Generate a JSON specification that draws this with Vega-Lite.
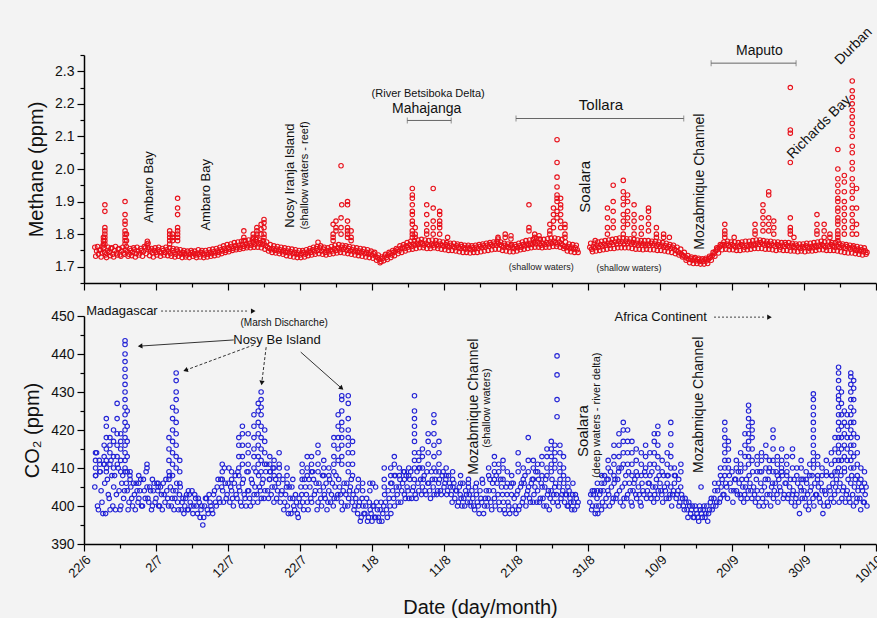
{
"$schema": "https://vega.github.io/schema/vega-lite/v6.json",
"background": "#f3f3f3",
"padding": {"left": 22, "top": 25, "right": 0, "bottom": 0},
"bounds": "flush",
"spacing": 33,
"config": {
  "view": {"stroke": null},
  "font": "Liberation Sans",
  "axis": {"domainColor": "#000", "domainWidth": 1.5, "tickColor": "#000", "tickWidth": 1.2, "labelColor": "#111", "titleColor": "#111", "labelFont": "Liberation Sans", "titleFont": "Liberation Sans", "labelFontSize": 14, "titleFontSize": 20, "titleFontWeight": "normal", "grid": false, "labelOverlap": false}
},
"datasets": {
"obs": [
{"d":1.5,"m":1.76,"c":405},{"d":1.75,"m":1.748,"c":414},{"d":2,"m":1.738,"c":399},{"d":2.25,"m":1.752,"c":409},{"d":2.5,"m":1.742,"c":401},{"d":2.75,"m":1.758,"c":411},{"d":3,"m":1.736,"c":398},{"d":3.25,"m":1.75,"c":407},{"d":3.5,"m":1.744,"c":402},{"d":3.75,"m":1.756,"c":412},
{"d":4,"m":1.738,"c":400},{"d":4.25,"m":1.75,"c":408},{"d":4.5,"m":1.742,"c":403},{"d":4.75,"m":1.754,"c":410},{"d":5,"m":1.736,"c":399},{"d":5.25,"m":1.748,"c":406},{"d":5.5,"m":1.742,"c":402},{"d":5.75,"m":1.752,"c":409},{"d":6,"m":1.746,"c":404},{"d":6.25,"m":1.738,"c":401},
{"d":6.5,"m":1.75,"c":405},{"d":6.75,"m":1.744,"c":400},{"d":7,"m":1.752,"c":403},{"d":7.25,"m":1.74,"c":406},{"d":7.5,"m":1.748,"c":401},{"d":7.75,"m":1.742,"c":404},{"d":8,"m":1.75,"c":400},{"d":8.25,"m":1.746,"c":407},{"d":8.5,"m":1.758,"c":402},{"d":8.75,"m":1.77,"c":405},
{"d":9,"m":1.754,"c":401},{"d":9.25,"m":1.748,"c":404},{"d":9.5,"m":1.742,"c":400},{"d":9.75,"m":1.75,"c":406},{"d":10,"m":1.744,"c":402},{"d":10.25,"m":1.752,"c":404},{"d":10.5,"m":1.746,"c":400},{"d":10.75,"m":1.742,"c":403},{"d":11,"m":1.75,"c":406},{"d":11.25,"m":1.744,"c":401},
{"d":11.5,"m":1.752,"c":404},{"d":11.75,"m":1.746,"c":400},{"d":12,"m":1.74,"c":405},{"d":12.25,"m":1.75,"c":402},{"d":12.5,"m":1.744,"c":399},{"d":12.75,"m":1.738,"c":404},{"d":13,"m":1.748,"c":401},{"d":13.25,"m":1.742,"c":403},{"d":13.5,"m":1.738,"c":399},{"d":13.75,"m":1.744,"c":402},
{"d":14,"m":1.74,"c":400},{"d":14.25,"m":1.736,"c":403},{"d":14.5,"m":1.742,"c":399},{"d":14.75,"m":1.738,"c":401},{"d":15,"m":1.744,"c":404},{"d":15.25,"m":1.74,"c":400},{"d":15.5,"m":1.736,"c":402},{"d":15.75,"m":1.742,"c":398},{"d":16,"m":1.738,"c":401},{"d":16.25,"m":1.744,"c":399},
{"d":16.5,"m":1.74,"c":395},{"d":16.75,"m":1.736,"c":400},{"d":17,"m":1.742,"c":402},{"d":17.25,"m":1.738,"c":398},{"d":17.5,"m":1.744,"c":401},{"d":17.75,"m":1.74,"c":399},{"d":18,"m":1.746,"c":403},{"d":18.25,"m":1.742,"c":401},{"d":18.5,"m":1.748,"c":405},{"d":18.75,"m":1.744,"c":402},
{"d":19,"m":1.752,"c":407},{"d":19.25,"m":1.748,"c":404},{"d":19.5,"m":1.756,"c":410},{"d":19.75,"m":1.75,"c":402},{"d":20,"m":1.758,"c":406},{"d":20.25,"m":1.754,"c":401},{"d":20.5,"m":1.762,"c":404},{"d":20.75,"m":1.756,"c":400},{"d":21,"m":1.764,"c":408},{"d":21.25,"m":1.758,"c":402},
{"d":21.5,"m":1.766,"c":405},{"d":21.75,"m":1.76,"c":401},{"d":22,"m":1.768,"c":406},{"d":22.25,"m":1.762,"c":403},{"d":22.5,"m":1.77,"c":400},{"d":22.75,"m":1.764,"c":404},{"d":23,"m":1.772,"c":402},{"d":23.25,"m":1.766,"c":407},{"d":23.5,"m":1.774,"c":401},{"d":23.75,"m":1.768,"c":405},
{"d":24,"m":1.776,"c":403},{"d":24.25,"m":1.77,"c":408},{"d":24.5,"m":1.774,"c":404},{"d":24.75,"m":1.768,"c":406},{"d":25,"m":1.772,"c":402},{"d":25.25,"m":1.764,"c":409},{"d":25.5,"m":1.76,"c":404},{"d":25.75,"m":1.756,"c":407},{"d":26,"m":1.752,"c":403},{"d":26.25,"m":1.756,"c":410},
{"d":26.5,"m":1.75,"c":405},{"d":26.75,"m":1.754,"c":402},{"d":27,"m":1.748,"c":406},{"d":27.25,"m":1.752,"c":401},{"d":27.5,"m":1.746,"c":404},{"d":27.75,"m":1.75,"c":399},{"d":28,"m":1.744,"c":403},{"d":28.25,"m":1.748,"c":400},{"d":28.5,"m":1.742,"c":405},{"d":28.75,"m":1.746,"c":398},
{"d":29,"m":1.74,"c":402},{"d":29.25,"m":1.744,"c":399},{"d":29.5,"m":1.738,"c":401},{"d":29.75,"m":1.742,"c":397},{"d":30,"m":1.736,"c":400},{"d":30.25,"m":1.74,"c":403},{"d":30.5,"m":1.744,"c":399},{"d":30.75,"m":1.738,"c":405},{"d":31,"m":1.742,"c":401},{"d":31.25,"m":1.748,"c":407},
{"d":31.5,"m":1.744,"c":402},{"d":31.75,"m":1.752,"c":409},{"d":32,"m":1.746,"c":403},{"d":32.25,"m":1.756,"c":406},{"d":32.5,"m":1.75,"c":401},{"d":32.75,"m":1.758,"c":404},{"d":33,"m":1.748,"c":400},{"d":33.25,"m":1.754,"c":405},{"d":33.5,"m":1.744,"c":402},{"d":33.75,"m":1.75,"c":399},
{"d":34,"m":1.746,"c":404},{"d":34.25,"m":1.752,"c":401},{"d":34.5,"m":1.748,"c":406},{"d":34.75,"m":1.756,"c":402},{"d":35,"m":1.75,"c":408},{"d":35.25,"m":1.758,"c":403},{"d":35.5,"m":1.752,"c":405},{"d":35.75,"m":1.76,"c":401},{"d":36,"m":1.754,"c":404},{"d":36.25,"m":1.758,"c":400},
{"d":36.5,"m":1.75,"c":406},{"d":36.75,"m":1.756,"c":402},{"d":37,"m":1.748,"c":405},{"d":37.25,"m":1.752,"c":401},{"d":37.5,"m":1.746,"c":399},{"d":37.75,"m":1.75,"c":402},{"d":38,"m":1.744,"c":398},{"d":38.25,"m":1.748,"c":401},{"d":38.5,"m":1.742,"c":397},{"d":38.75,"m":1.746,"c":400},
{"d":39,"m":1.74,"c":398},{"d":39.25,"m":1.744,"c":402},{"d":39.5,"m":1.738,"c":397},{"d":39.75,"m":1.742,"c":399},{"d":40,"m":1.736,"c":396},{"d":40.25,"m":1.74,"c":400},{"d":40.5,"m":1.732,"c":397},{"d":40.75,"m":1.728,"c":399},{"d":41,"m":1.722,"c":396},{"d":41.25,"m":1.716,"c":401},
{"d":41.5,"m":1.726,"c":398},{"d":41.75,"m":1.732,"c":403},{"d":42,"m":1.728,"c":399},{"d":42.25,"m":1.736,"c":404},{"d":42.5,"m":1.74,"c":400},{"d":42.75,"m":1.736,"c":406},{"d":43,"m":1.744,"c":402},{"d":43.25,"m":1.748,"c":408},{"d":43.5,"m":1.752,"c":403},{"d":43.75,"m":1.748,"c":405},
{"d":44,"m":1.756,"c":401},{"d":44.25,"m":1.76,"c":406},{"d":44.5,"m":1.756,"c":403},{"d":44.75,"m":1.764,"c":408},{"d":45,"m":1.76,"c":404},{"d":45.25,"m":1.768,"c":407},{"d":45.5,"m":1.762,"c":402},{"d":45.75,"m":1.77,"c":405},{"d":46,"m":1.766,"c":403},{"d":46.25,"m":1.772,"c":409},
{"d":46.5,"m":1.768,"c":404},{"d":46.75,"m":1.774,"c":407},{"d":47,"m":1.77,"c":405},{"d":47.25,"m":1.766,"c":408},{"d":47.5,"m":1.772,"c":403},{"d":47.75,"m":1.768,"c":406},{"d":48,"m":1.764,"c":404},{"d":48.25,"m":1.77,"c":409},{"d":48.5,"m":1.766,"c":405},{"d":48.75,"m":1.772,"c":407},
{"d":49,"m":1.768,"c":403},{"d":49.25,"m":1.764,"c":406},{"d":49.5,"m":1.77,"c":404},{"d":49.75,"m":1.766,"c":408},{"d":50,"m":1.762,"c":405},{"d":50.25,"m":1.768,"c":407},{"d":50.5,"m":1.764,"c":404},{"d":50.75,"m":1.76,"c":406},{"d":51,"m":1.766,"c":403},{"d":51.25,"m":1.762,"c":405},
{"d":51.5,"m":1.758,"c":402},{"d":51.75,"m":1.764,"c":404},{"d":52,"m":1.76,"c":401},{"d":52.25,"m":1.756,"c":403},{"d":52.5,"m":1.762,"c":400},{"d":52.75,"m":1.758,"c":402},{"d":53,"m":1.754,"c":404},{"d":53.25,"m":1.76,"c":401},{"d":53.5,"m":1.756,"c":403},{"d":53.75,"m":1.752,"c":400},
{"d":54,"m":1.758,"c":402},{"d":54.25,"m":1.754,"c":399},{"d":54.5,"m":1.76,"c":403},{"d":54.75,"m":1.756,"c":400},{"d":55,"m":1.762,"c":404},{"d":55.25,"m":1.758,"c":401},{"d":55.5,"m":1.764,"c":398},{"d":55.75,"m":1.76,"c":402},{"d":56,"m":1.766,"c":400},{"d":56.25,"m":1.762,"c":404},
{"d":56.5,"m":1.768,"c":401},{"d":56.75,"m":1.764,"c":406},{"d":57,"m":1.77,"c":402},{"d":57.25,"m":1.766,"c":408},{"d":57.5,"m":1.772,"c":403},{"d":57.75,"m":1.768,"c":399},{"d":58,"m":1.764,"c":405},{"d":58.25,"m":1.76,"c":401},{"d":58.5,"m":1.766,"c":398},{"d":58.75,"m":1.762,"c":403},
{"d":59,"m":1.758,"c":400},{"d":59.25,"m":1.764,"c":405},{"d":59.5,"m":1.76,"c":399},{"d":59.75,"m":1.756,"c":402},{"d":60,"m":1.762,"c":398},{"d":60.25,"m":1.758,"c":404},{"d":60.5,"m":1.764,"c":400},{"d":60.75,"m":1.76,"c":406},{"d":61,"m":1.768,"c":402},{"d":61.25,"m":1.764,"c":408},
{"d":61.5,"m":1.77,"c":403},{"d":61.75,"m":1.766,"c":405},{"d":62,"m":1.772,"c":401},{"d":62.25,"m":1.768,"c":407},{"d":62.5,"m":1.774,"c":403},{"d":62.75,"m":1.77,"c":409},{"d":63,"m":1.776,"c":404},{"d":63.25,"m":1.77,"c":401},{"d":63.5,"m":1.766,"c":406},{"d":63.75,"m":1.772,"c":402},
{"d":64,"m":1.768,"c":405},{"d":64.25,"m":1.774,"c":400},{"d":64.5,"m":1.77,"c":404},{"d":64.75,"m":1.776,"c":402},{"d":65,"m":1.772,"c":407},{"d":65.25,"m":1.778,"c":403},{"d":65.5,"m":1.774,"c":406},{"d":65.75,"m":1.77,"c":401},{"d":66,"m":1.776,"c":405},{"d":66.25,"m":1.77,"c":402},
{"d":66.5,"m":1.766,"c":404},{"d":66.75,"m":1.762,"c":401},{"d":67,"m":1.758,"c":403},{"d":67.25,"m":1.762,"c":400},{"d":67.5,"m":1.756,"c":402},{"d":67.75,"m":1.76,"c":399},{"d":68,"m":1.754,"c":401},{"d":68.25,"m":1.758,"c":403},{"d":68.5,"m":1.752,"c":400},
{"d":70.25,"m":1.76,"c":401},{"d":70.5,"m":1.754,"c":399},{"d":70.75,"m":1.762,"c":403},{"d":71,"m":1.758,"c":398},{"d":71.25,"m":1.766,"c":402},{"d":71.5,"m":1.76,"c":400},{"d":71.75,"m":1.768,"c":404},{"d":72,"m":1.762,"c":401},{"d":72.25,"m":1.77,"c":406},{"d":72.5,"m":1.766,"c":402},
{"d":72.75,"m":1.772,"c":404},{"d":73,"m":1.766,"c":400},{"d":73.25,"m":1.774,"c":405},{"d":73.5,"m":1.768,"c":402},{"d":73.75,"m":1.776,"c":407},{"d":74,"m":1.77,"c":403},{"d":74.25,"m":1.778,"c":409},{"d":74.5,"m":1.772,"c":401},{"d":74.75,"m":1.776,"c":405},{"d":75,"m":1.77,"c":402},
{"d":75.25,"m":1.778,"c":408},{"d":75.5,"m":1.772,"c":403},{"d":75.75,"m":1.776,"c":406},{"d":76,"m":1.77,"c":401},{"d":76.25,"m":1.774,"c":404},{"d":76.5,"m":1.768,"c":407},{"d":76.75,"m":1.772,"c":402},{"d":77,"m":1.766,"c":405},{"d":77.25,"m":1.772,"c":401},{"d":77.5,"m":1.766,"c":406},
{"d":77.75,"m":1.77,"c":403},{"d":78,"m":1.764,"c":408},{"d":78.25,"m":1.77,"c":404},{"d":78.5,"m":1.766,"c":406},{"d":78.75,"m":1.772,"c":402},{"d":79,"m":1.766,"c":405},{"d":79.25,"m":1.77,"c":403},{"d":79.5,"m":1.764,"c":407},{"d":79.75,"m":1.768,"c":404},{"d":80,"m":1.762,"c":406},
{"d":80.25,"m":1.766,"c":403},{"d":80.5,"m":1.76,"c":408},{"d":80.75,"m":1.764,"c":404},{"d":81,"m":1.758,"c":406},{"d":81.25,"m":1.762,"c":402},{"d":81.5,"m":1.756,"c":405},{"d":81.75,"m":1.76,"c":403},{"d":82,"m":1.754,"c":406},{"d":82.25,"m":1.75,"c":402},{"d":82.5,"m":1.746,"c":404},
{"d":82.75,"m":1.742,"c":401},{"d":83,"m":1.738,"c":403},{"d":83.25,"m":1.734,"c":400},{"d":83.5,"m":1.73,"c":402},{"d":83.75,"m":1.726,"c":399},{"d":84,"m":1.722,"c":401},{"d":84.25,"m":1.726,"c":398},{"d":84.5,"m":1.72,"c":400},{"d":84.75,"m":1.724,"c":397},{"d":85,"m":1.718,"c":399},
{"d":85.25,"m":1.722,"c":397},{"d":85.5,"m":1.716,"c":400},{"d":85.75,"m":1.72,"c":398},{"d":86,"m":1.716,"c":399},{"d":86.25,"m":1.722,"c":397},{"d":86.5,"m":1.718,"c":400},{"d":86.75,"m":1.724,"c":398},{"d":87,"m":1.728,"c":401},{"d":87.25,"m":1.734,"c":399},{"d":87.5,"m":1.74,"c":402},
{"d":87.75,"m":1.748,"c":400},{"d":88,"m":1.754,"c":404},{"d":88.25,"m":1.76,"c":401},{"d":88.5,"m":1.764,"c":405},{"d":88.75,"m":1.768,"c":403},{"d":89,"m":1.764,"c":408},{"d":89.25,"m":1.77,"c":405},{"d":89.5,"m":1.766,"c":410},{"d":89.75,"m":1.762,"c":406},{"d":90,"m":1.768,"c":409},
{"d":90.25,"m":1.764,"c":404},{"d":90.5,"m":1.76,"c":407},{"d":90.75,"m":1.766,"c":403},{"d":91,"m":1.762,"c":406},{"d":91.25,"m":1.768,"c":402},{"d":91.5,"m":1.764,"c":405},{"d":91.75,"m":1.76,"c":403},{"d":92,"m":1.766,"c":407},{"d":92.25,"m":1.762,"c":404},{"d":92.5,"m":1.768,"c":406},
{"d":92.75,"m":1.764,"c":402},{"d":93,"m":1.77,"c":405},{"d":93.25,"m":1.766,"c":401},{"d":93.5,"m":1.772,"c":404},{"d":93.75,"m":1.768,"c":400},{"d":94,"m":1.774,"c":406},{"d":94.25,"m":1.77,"c":402},{"d":94.5,"m":1.766,"c":405},{"d":94.75,"m":1.772,"c":401},{"d":95,"m":1.768,"c":407},
{"d":95.25,"m":1.764,"c":403},{"d":95.5,"m":1.77,"c":405},{"d":95.75,"m":1.766,"c":402},{"d":96,"m":1.762,"c":406},{"d":96.25,"m":1.768,"c":403},{"d":96.5,"m":1.764,"c":407},{"d":96.75,"m":1.76,"c":404},{"d":97,"m":1.766,"c":408},{"d":97.25,"m":1.762,"c":403},{"d":97.5,"m":1.768,"c":406},
{"d":97.75,"m":1.764,"c":402},{"d":98,"m":1.76,"c":405},{"d":98.25,"m":1.766,"c":401},{"d":98.5,"m":1.762,"c":404},{"d":98.75,"m":1.758,"c":400},{"d":99,"m":1.764,"c":403},{"d":99.25,"m":1.76,"c":401},{"d":99.5,"m":1.756,"c":405},{"d":99.75,"m":1.762,"c":402},{"d":100,"m":1.758,"c":404},
{"d":100.25,"m":1.764,"c":400},{"d":100.5,"m":1.76,"c":403},{"d":100.75,"m":1.756,"c":401},{"d":101,"m":1.762,"c":405},{"d":101.25,"m":1.758,"c":402},{"d":101.5,"m":1.764,"c":406},{"d":101.75,"m":1.76,"c":403},{"d":102,"m":1.766,"c":405},{"d":102.25,"m":1.762,"c":401},{"d":102.5,"m":1.768,"c":404},
{"d":102.75,"m":1.764,"c":400},{"d":103,"m":1.76,"c":403},{"d":103.25,"m":1.766,"c":401},{"d":103.5,"m":1.762,"c":405},{"d":103.75,"m":1.768,"c":402},{"d":104,"m":1.764,"c":406},{"d":104.25,"m":1.76,"c":403},{"d":104.5,"m":1.766,"c":407},{"d":104.75,"m":1.762,"c":404},{"d":105,"m":1.758,"c":406},
{"d":105.25,"m":1.764,"c":402},{"d":105.5,"m":1.76,"c":405},{"d":105.75,"m":1.756,"c":401},{"d":106,"m":1.762,"c":404},{"d":106.25,"m":1.758,"c":402},{"d":106.5,"m":1.754,"c":406},{"d":106.75,"m":1.76,"c":403},{"d":107,"m":1.756,"c":405},{"d":107.25,"m":1.75,"c":401},{"d":107.5,"m":1.754,"c":404},
{"d":107.75,"m":1.748,"c":402},{"d":108,"m":1.752,"c":405},{"d":108.25,"m":1.746,"c":401},{"d":108.5,"m":1.75,"c":403},{"d":108.75,"m":1.744,"c":400},
{"d":1.625,"m":1.732,"c":408},{"d":1.875,"m":1.762,"c":400},{"d":2.125,"m":1.75,"c":412},{"d":2.375,"m":1.73,"c":404},{"d":2.625,"m":1.764,"c":398},{"d":2.875,"m":1.744,"c":406},{"d":3.125,"m":1.728,"c":410},{"d":3.375,"m":1.76,"c":403},{"d":3.625,"m":1.734,"c":399},{"d":3.875,"m":1.758,"c":408},
{"d":4.125,"m":1.73,"c":405},{"d":4.375,"m":1.762,"c":399},{"d":4.625,"m":1.736,"c":411},{"d":4.875,"m":1.756,"c":404},{"d":5.125,"m":1.732,"c":400},{"d":5.375,"m":1.76,"c":408},{"d":5.625,"m":1.738,"c":404},{"d":5.875,"m":1.762,"c":406},{"d":6.125,"m":1.732,"c":399},{"d":6.375,"m":1.756,"c":408},
{"d":6.625,"m":1.734,"c":402},{"d":6.875,"m":1.758,"c":406},{"d":7.125,"m":1.73,"c":399},{"d":7.375,"m":1.76,"c":404},{"d":7.625,"m":1.736,"c":402},{"d":7.875,"m":1.756,"c":407},{"d":8.125,"m":1.732,"c":400},{"d":8.375,"m":1.762,"c":404},{"d":8.625,"m":1.74,"c":409},{"d":8.875,"m":1.76,"c":402},
{"d":9.125,"m":1.734,"c":405},{"d":9.375,"m":1.756,"c":399},{"d":9.625,"m":1.73,"c":404},{"d":9.875,"m":1.758,"c":401},{"d":10.125,"m":1.736,"c":406},{"d":10.375,"m":1.76,"c":400},{"d":10.625,"m":1.732,"c":405},{"d":10.875,"m":1.756,"c":399},{"d":11.125,"m":1.736,"c":403},{"d":11.375,"m":1.76,"c":407},
{"d":11.625,"m":1.734,"c":402},{"d":11.875,"m":1.758,"c":408},{"d":12.125,"m":1.732,"c":400},{"d":12.375,"m":1.756,"c":404},{"d":12.625,"m":1.73,"c":402},{"d":12.875,"m":1.754,"c":406},{"d":13.125,"m":1.732,"c":399},{"d":13.375,"m":1.752,"c":405},{"d":13.625,"m":1.728,"c":401},{"d":13.875,"m":1.75,"c":398},
{"d":14.125,"m":1.73,"c":402},{"d":14.375,"m":1.748,"c":399},{"d":14.625,"m":1.728,"c":403},{"d":14.875,"m":1.75,"c":400},{"d":15.125,"m":1.732,"c":398},{"d":15.375,"m":1.748,"c":403},{"d":15.625,"m":1.728,"c":400},{"d":15.875,"m":1.752,"c":402},{"d":16.125,"m":1.73,"c":397},{"d":16.375,"m":1.75,"c":400},
{"d":16.625,"m":1.728,"c":397},{"d":16.875,"m":1.75,"c":402},{"d":17.125,"m":1.73,"c":399},{"d":17.375,"m":1.752,"c":403},{"d":17.625,"m":1.732,"c":400},{"d":17.875,"m":1.754,"c":398},{"d":18.125,"m":1.734,"c":404},{"d":18.375,"m":1.756,"c":400},{"d":18.625,"m":1.736,"c":407},{"d":18.875,"m":1.76,"c":401},
{"d":19.125,"m":1.74,"c":405},{"d":19.375,"m":1.764,"c":401},{"d":19.625,"m":1.744,"c":406},{"d":19.875,"m":1.768,"c":403},{"d":20.125,"m":1.746,"c":410},{"d":20.375,"m":1.77,"c":405},{"d":20.625,"m":1.75,"c":402},{"d":20.875,"m":1.774,"c":406},{"d":21.125,"m":1.752,"c":403},{"d":21.375,"m":1.776,"c":409},
{"d":21.625,"m":1.754,"c":404},{"d":21.875,"m":1.778,"c":400},{"d":22.125,"m":1.756,"c":407},{"d":22.375,"m":1.78,"c":402},{"d":22.625,"m":1.758,"c":409},{"d":22.875,"m":1.782,"c":404},{"d":23.125,"m":1.758,"c":400},{"d":23.375,"m":1.782,"c":406},{"d":23.625,"m":1.76,"c":403},{"d":23.875,"m":1.784,"c":409},
{"d":24.125,"m":1.76,"c":401},{"d":24.375,"m":1.782,"c":405},{"d":24.625,"m":1.758,"c":402},{"d":24.875,"m":1.78,"c":407},{"d":25.125,"m":1.754,"c":404},{"d":25.375,"m":1.776,"c":411},{"d":25.625,"m":1.748,"c":402},{"d":25.875,"m":1.768,"c":409},{"d":26.125,"m":1.744,"c":405},{"d":26.375,"m":1.764,"c":401},
{"d":26.625,"m":1.742,"c":407},{"d":26.875,"m":1.762,"c":404},{"d":27.125,"m":1.74,"c":410},{"d":27.375,"m":1.76,"c":403},{"d":27.625,"m":1.738,"c":407},{"d":27.875,"m":1.758,"c":401},{"d":28.125,"m":1.734,"c":405},{"d":28.375,"m":1.756,"c":398},{"d":28.625,"m":1.732,"c":402},{"d":28.875,"m":1.754,"c":405},
{"d":29.125,"m":1.73,"c":400},{"d":29.375,"m":1.752,"c":403},{"d":29.625,"m":1.728,"c":398},{"d":29.875,"m":1.75,"c":402},{"d":30.125,"m":1.728,"c":405},{"d":30.375,"m":1.75,"c":401},{"d":30.625,"m":1.73,"c":407},{"d":30.875,"m":1.752,"c":403},{"d":31.125,"m":1.734,"c":399},{"d":31.375,"m":1.756,"c":405},
{"d":31.625,"m":1.736,"c":401},{"d":31.875,"m":1.76,"c":407},{"d":32.125,"m":1.738,"c":404},{"d":32.375,"m":1.762,"c":399},{"d":32.625,"m":1.74,"c":406},{"d":32.875,"m":1.764,"c":402},{"d":33.125,"m":1.738,"c":408},{"d":33.375,"m":1.76,"c":403},{"d":33.625,"m":1.736,"c":406},{"d":33.875,"m":1.758,"c":401},
{"d":34.125,"m":1.738,"c":407},{"d":34.375,"m":1.762,"c":403},{"d":34.625,"m":1.74,"c":400},{"d":34.875,"m":1.766,"c":405},{"d":35.125,"m":1.742,"c":402},{"d":35.375,"m":1.768,"c":407},{"d":35.625,"m":1.744,"c":403},{"d":35.875,"m":1.766,"c":399},{"d":36.125,"m":1.742,"c":406},{"d":36.375,"m":1.764,"c":403},
{"d":36.625,"m":1.74,"c":400},{"d":36.875,"m":1.762,"c":404},{"d":37.125,"m":1.738,"c":407},{"d":37.375,"m":1.76,"c":403},{"d":37.625,"m":1.736,"c":400},{"d":37.875,"m":1.758,"c":404},{"d":38.125,"m":1.734,"c":400},{"d":38.375,"m":1.756,"c":396},{"d":38.625,"m":1.732,"c":402},{"d":38.875,"m":1.754,"c":398},
{"d":39.125,"m":1.73,"c":400},{"d":39.375,"m":1.752,"c":396},{"d":39.625,"m":1.728,"c":401},{"d":39.875,"m":1.748,"c":398},{"d":40.125,"m":1.726,"c":400},{"d":40.375,"m":1.744,"c":397},{"d":40.625,"m":1.72,"c":401},{"d":40.875,"m":1.736,"c":397},{"d":41.125,"m":1.712,"c":399},{"d":41.375,"m":1.73,"c":396},
{"d":41.625,"m":1.718,"c":400},{"d":41.875,"m":1.738,"c":401},{"d":42.125,"m":1.722,"c":397},{"d":42.375,"m":1.744,"c":402},{"d":42.625,"m":1.728,"c":398},{"d":42.875,"m":1.75,"c":404},{"d":43.125,"m":1.734,"c":400},{"d":43.375,"m":1.756,"c":405},{"d":43.625,"m":1.74,"c":401},{"d":43.875,"m":1.764,"c":407},
{"d":44.125,"m":1.744,"c":404},{"d":44.375,"m":1.768,"c":409},{"d":44.625,"m":1.748,"c":402},{"d":44.875,"m":1.774,"c":405},{"d":45.125,"m":1.752,"c":402},{"d":45.375,"m":1.778,"c":409},{"d":45.625,"m":1.754,"c":404},{"d":45.875,"m":1.78,"c":407},{"d":46.125,"m":1.756,"c":402},{"d":46.375,"m":1.782,"c":406},
{"d":46.625,"m":1.758,"c":410},{"d":46.875,"m":1.784,"c":403},{"d":47.125,"m":1.758,"c":407},{"d":47.375,"m":1.782,"c":404},{"d":47.625,"m":1.756,"c":409},{"d":47.875,"m":1.78,"c":406},{"d":48.125,"m":1.756,"c":402},{"d":48.375,"m":1.782,"c":407},{"d":48.625,"m":1.758,"c":403},{"d":48.875,"m":1.78,"c":409},
{"d":49.125,"m":1.756,"c":404},{"d":49.375,"m":1.778,"c":407},{"d":49.625,"m":1.754,"c":403},{"d":49.875,"m":1.776,"c":409},{"d":50.125,"m":1.752,"c":406},{"d":50.375,"m":1.774,"c":403},{"d":50.625,"m":1.75,"c":408},{"d":50.875,"m":1.772,"c":405},{"d":51.125,"m":1.75,"c":401},{"d":51.375,"m":1.772,"c":406},
{"d":51.625,"m":1.748,"c":404},{"d":51.875,"m":1.77,"c":400},{"d":52.125,"m":1.746,"c":405},{"d":52.375,"m":1.768,"c":402},{"d":52.625,"m":1.744,"c":406},{"d":52.875,"m":1.766,"c":400},{"d":53.125,"m":1.744,"c":403},{"d":53.375,"m":1.766,"c":406},{"d":53.625,"m":1.742,"c":401},{"d":53.875,"m":1.764,"c":404},
{"d":54.125,"m":1.744,"c":400},{"d":54.375,"m":1.766,"c":405},{"d":54.625,"m":1.744,"c":401},{"d":54.875,"m":1.768,"c":398},{"d":55.125,"m":1.746,"c":402},{"d":55.375,"m":1.77,"c":406},{"d":55.625,"m":1.748,"c":400},{"d":55.875,"m":1.772,"c":404},{"d":56.125,"m":1.75,"c":402},{"d":56.375,"m":1.774,"c":407},
{"d":56.625,"m":1.752,"c":399},{"d":56.875,"m":1.776,"c":404},{"d":57.125,"m":1.754,"c":400},{"d":57.375,"m":1.778,"c":406},{"d":57.625,"m":1.754,"c":401},{"d":57.875,"m":1.776,"c":407},{"d":58.125,"m":1.75,"c":403},{"d":58.375,"m":1.772,"c":399},{"d":58.625,"m":1.748,"c":405},{"d":58.875,"m":1.77,"c":401},
{"d":59.125,"m":1.746,"c":398},{"d":59.375,"m":1.768,"c":403},{"d":59.625,"m":1.746,"c":406},{"d":59.875,"m":1.768,"c":400},{"d":60.125,"m":1.748,"c":403},{"d":60.375,"m":1.772,"c":399},{"d":60.625,"m":1.752,"c":405},{"d":60.875,"m":1.776,"c":401},{"d":61.125,"m":1.754,"c":406},{"d":61.375,"m":1.78,"c":400},
{"d":61.625,"m":1.756,"c":404},{"d":61.875,"m":1.782,"c":402},{"d":62.125,"m":1.758,"c":406},{"d":62.375,"m":1.784,"c":401},{"d":62.625,"m":1.76,"c":405},{"d":62.875,"m":1.786,"c":401},{"d":63.125,"m":1.76,"c":407},{"d":63.375,"m":1.784,"c":402},{"d":63.625,"m":1.758,"c":405},{"d":63.875,"m":1.784,"c":400},
{"d":64.125,"m":1.76,"c":407},{"d":64.375,"m":1.786,"c":403},{"d":64.625,"m":1.76,"c":399},{"d":64.875,"m":1.788,"c":404},{"d":65.125,"m":1.762,"c":401},{"d":65.375,"m":1.788,"c":405},{"d":65.625,"m":1.762,"c":403},{"d":65.875,"m":1.786,"c":400},{"d":66.125,"m":1.76,"c":407},{"d":66.375,"m":1.784,"c":403},
{"d":66.625,"m":1.756,"c":406},{"d":66.875,"m":1.776,"c":403},{"d":67.125,"m":1.748,"c":400},{"d":67.375,"m":1.77,"c":404},{"d":67.625,"m":1.746,"c":401},{"d":67.875,"m":1.768,"c":403},{"d":68.125,"m":1.744,"c":399},{"d":68.375,"m":1.766,"c":402},{"d":68.625,"m":1.744,"c":401},
{"d":70.375,"m":1.772,"c":403},{"d":70.625,"m":1.746,"c":400},{"d":70.875,"m":1.772,"c":404},{"d":71.125,"m":1.748,"c":400},{"d":71.375,"m":1.776,"c":398},{"d":71.625,"m":1.75,"c":403},{"d":71.875,"m":1.778,"c":399},{"d":72.125,"m":1.752,"c":404},{"d":72.375,"m":1.78,"c":400},{"d":72.625,"m":1.754,"c":407},
{"d":72.875,"m":1.782,"c":403},{"d":73.125,"m":1.756,"c":409},{"d":73.375,"m":1.784,"c":401},{"d":73.625,"m":1.756,"c":406},{"d":73.875,"m":1.786,"c":402},{"d":74.125,"m":1.758,"c":407},{"d":74.375,"m":1.788,"c":404},{"d":74.625,"m":1.758,"c":410},{"d":74.875,"m":1.788,"c":400},{"d":75.125,"m":1.758,"c":406},
{"d":75.375,"m":1.786,"c":402},{"d":75.625,"m":1.758,"c":409},{"d":75.875,"m":1.786,"c":404},{"d":76.125,"m":1.756,"c":400},{"d":76.375,"m":1.784,"c":406},{"d":76.625,"m":1.754,"c":403},{"d":76.875,"m":1.782,"c":408},{"d":77.125,"m":1.754,"c":403},{"d":77.375,"m":1.78,"c":400},{"d":77.625,"m":1.752,"c":404},
{"d":77.875,"m":1.78,"c":409},{"d":78.125,"m":1.754,"c":402},{"d":78.375,"m":1.78,"c":406},{"d":78.625,"m":1.752,"c":403},{"d":78.875,"m":1.778,"c":409},{"d":79.125,"m":1.752,"c":401},{"d":79.375,"m":1.778,"c":405},{"d":79.625,"m":1.75,"c":402},{"d":79.875,"m":1.776,"c":408},{"d":80.125,"m":1.75,"c":404},
{"d":80.375,"m":1.774,"c":401},{"d":80.625,"m":1.748,"c":405},{"d":80.875,"m":1.772,"c":402},{"d":81.125,"m":1.746,"c":408},{"d":81.375,"m":1.768,"c":403},{"d":81.625,"m":1.744,"c":400},{"d":81.875,"m":1.766,"c":404},{"d":82.125,"m":1.74,"c":408},{"d":82.375,"m":1.76,"c":403},{"d":82.625,"m":1.736,"c":400},
{"d":82.875,"m":1.754,"c":405},{"d":83.125,"m":1.73,"c":402},{"d":83.375,"m":1.744,"c":399},{"d":83.625,"m":1.72,"c":401},{"d":83.875,"m":1.734,"c":397},{"d":84.125,"m":1.712,"c":400},{"d":84.375,"m":1.73,"c":399},{"d":84.625,"m":1.71,"c":397},{"d":84.875,"m":1.728,"c":400},{"d":85.125,"m":1.71,"c":398},
{"d":85.375,"m":1.726,"c":396},{"d":85.625,"m":1.708,"c":399},{"d":85.875,"m":1.724,"c":397},{"d":86.125,"m":1.708,"c":400},{"d":86.375,"m":1.726,"c":398},{"d":86.625,"m":1.71,"c":396},{"d":86.875,"m":1.732,"c":399},{"d":87.125,"m":1.72,"c":402},{"d":87.375,"m":1.744,"c":400},{"d":87.625,"m":1.732,"c":404},
{"d":87.875,"m":1.758,"c":401},{"d":88.125,"m":1.742,"c":406},{"d":88.375,"m":1.768,"c":402},{"d":88.625,"m":1.752,"c":407},{"d":88.875,"m":1.776,"c":403},{"d":89.125,"m":1.754,"c":406},{"d":89.375,"m":1.778,"c":402},{"d":89.625,"m":1.752,"c":408},{"d":89.875,"m":1.776,"c":404},{"d":90.125,"m":1.752,"c":401},
{"d":90.375,"m":1.776,"c":407},{"d":90.625,"m":1.75,"c":404},{"d":90.875,"m":1.774,"c":409},{"d":91.125,"m":1.75,"c":403},{"d":91.375,"m":1.776,"c":407},{"d":91.625,"m":1.752,"c":401},{"d":91.875,"m":1.778,"c":405},{"d":92.125,"m":1.752,"c":402},{"d":92.375,"m":1.778,"c":408},{"d":92.625,"m":1.754,"c":404},
{"d":92.875,"m":1.78,"c":409},{"d":93.125,"m":1.756,"c":403},{"d":93.375,"m":1.782,"c":407},{"d":93.625,"m":1.756,"c":402},{"d":93.875,"m":1.782,"c":409},{"d":94.125,"m":1.756,"c":404},{"d":94.375,"m":1.78,"c":400},{"d":94.625,"m":1.754,"c":407},{"d":94.875,"m":1.778,"c":403},{"d":95.125,"m":1.754,"c":409},
{"d":95.375,"m":1.778,"c":400},{"d":95.625,"m":1.752,"c":406},{"d":95.875,"m":1.776,"c":404},{"d":96.125,"m":1.75,"c":409},{"d":96.375,"m":1.776,"c":401},{"d":96.625,"m":1.752,"c":405},{"d":96.875,"m":1.774,"c":410},{"d":97.125,"m":1.75,"c":402},{"d":97.375,"m":1.774,"c":406},{"d":97.625,"m":1.75,"c":409},
{"d":97.875,"m":1.774,"c":403},{"d":98.125,"m":1.748,"c":407},{"d":98.375,"m":1.772,"c":403},{"d":98.625,"m":1.748,"c":407},{"d":98.875,"m":1.77,"c":402},{"d":99.125,"m":1.746,"c":406},{"d":99.375,"m":1.77,"c":398},{"d":99.625,"m":1.748,"c":404},{"d":99.875,"m":1.77,"c":407},{"d":100.125,"m":1.746,"c":402},
{"d":100.375,"m":1.772,"c":406},{"d":100.625,"m":1.748,"c":399},{"d":100.875,"m":1.772,"c":404},{"d":101.125,"m":1.748,"c":408},{"d":101.375,"m":1.774,"c":400},{"d":101.625,"m":1.75,"c":403},{"d":101.875,"m":1.776,"c":407},{"d":102.125,"m":1.752,"c":402},{"d":102.375,"m":1.778,"c":406},{"d":102.625,"m":1.752,"c":398},
{"d":102.875,"m":1.776,"c":404},{"d":103.125,"m":1.75,"c":408},{"d":103.375,"m":1.776,"c":400},{"d":103.625,"m":1.75,"c":404},{"d":103.875,"m":1.774,"c":408},{"d":104.125,"m":1.75,"c":401},{"d":104.375,"m":1.774,"c":405},{"d":104.625,"m":1.748,"c":409},{"d":104.875,"m":1.772,"c":401},{"d":105.125,"m":1.746,"c":408},
{"d":105.375,"m":1.77,"c":404},{"d":105.625,"m":1.744,"c":409},{"d":105.875,"m":1.768,"c":403},{"d":106.125,"m":1.742,"c":407},{"d":106.375,"m":1.766,"c":401},{"d":106.625,"m":1.742,"c":408},{"d":106.875,"m":1.764,"c":400},{"d":107.125,"m":1.74,"c":407},{"d":107.375,"m":1.762,"c":402},{"d":107.625,"m":1.738,"c":406},
{"d":107.875,"m":1.76,"c":399},{"d":108.125,"m":1.736,"c":404},{"d":108.375,"m":1.758,"c":401},{"d":108.625,"m":1.738,"c":405},
{"d":2.7,"m":1.79},{"d":2.7,"m":1.78},{"d":2.7,"m":1.77},{"d":2.9,"m":1.89},{"d":2.9,"m":1.87},{"d":2.9,"m":1.82},{"d":2.9,"m":1.81},{"d":2.9,"m":1.8},{"d":2.9,"m":1.79},{"d":2.9,"m":1.78},{"d":2.9,"m":1.77},
{"d":5.7,"m":1.9},{"d":5.7,"m":1.86},{"d":5.7,"m":1.84},{"d":5.7,"m":1.83},{"d":5.7,"m":1.81},{"d":5.7,"m":1.8},{"d":5.7,"m":1.79},{"d":5.7,"m":1.78},{"d":5.7,"m":1.77},{"d":5.9,"m":1.8},{"d":5.9,"m":1.78},
{"d":8.8,"m":1.778},{"d":8.9,"m":1.772},
{"d":11.9,"m":1.81},{"d":11.9,"m":1.8},{"d":11.9,"m":1.79},{"d":11.9,"m":1.78},{"d":11.9,"m":1.77},{"d":12.3,"m":1.8},{"d":12.3,"m":1.79},{"d":12.3,"m":1.78},
{"d":13,"m":1.91},{"d":13,"m":1.88},{"d":13,"m":1.86},{"d":13,"m":1.82},{"d":13,"m":1.81},{"d":13,"m":1.8},{"d":13,"m":1.79},{"d":13,"m":1.78},
{"d":22.2,"m":1.81},{"d":22.2,"m":1.79},{"d":22.2,"m":1.78},{"d":23.5,"m":1.79},{"d":23.5,"m":1.8},{"d":23.5,"m":1.785},{"d":24,"m":1.8},{"d":24,"m":1.82},{"d":24,"m":1.81},{"d":24,"m":1.79},
{"d":24.6,"m":1.83},{"d":24.6,"m":1.815},{"d":24.6,"m":1.8},{"d":25,"m":1.845},{"d":25,"m":1.835},{"d":25,"m":1.82},{"d":25,"m":1.8},{"d":25,"m":1.79},
{"d":32.5,"m":1.775},{"d":34.6,"m":1.8},{"d":34.6,"m":1.83},{"d":34.6,"m":1.79},{"d":34.6,"m":1.78},{"d":35,"m":1.84},{"d":35,"m":1.82},{"d":35,"m":1.81},
{"d":35.7,"m":2.01},{"d":35.8,"m":1.89},{"d":35.7,"m":1.85},{"d":35.7,"m":1.82},{"d":35.7,"m":1.8},
{"d":36.6,"m":1.9},{"d":36.6,"m":1.89},{"d":36.6,"m":1.84},{"d":36.6,"m":1.82},{"d":36.6,"m":1.81},{"d":36.6,"m":1.8},{"d":36.6,"m":1.79},{"d":37.1,"m":1.81},{"d":37.1,"m":1.79},{"d":37.1,"m":1.78},
{"d":45.6,"m":1.94},{"d":45.6,"m":1.92},{"d":45.6,"m":1.91},{"d":45.6,"m":1.89},{"d":45.6,"m":1.87},{"d":45.6,"m":1.86},{"d":45.6,"m":1.84},{"d":45.6,"m":1.83},{"d":45.6,"m":1.81},{"d":45.6,"m":1.8},{"d":45.6,"m":1.79},
{"d":46,"m":1.82},{"d":46,"m":1.8},{"d":46,"m":1.79},{"d":47.6,"m":1.89},{"d":47.6,"m":1.86},{"d":47.6,"m":1.83},{"d":47.6,"m":1.81},{"d":47.6,"m":1.8},
{"d":48.5,"m":1.94},{"d":48.5,"m":1.88},{"d":48.5,"m":1.84},{"d":48.5,"m":1.82},{"d":48.5,"m":1.8},
{"d":49.4,"m":1.87},{"d":49.4,"m":1.86},{"d":49.4,"m":1.84},{"d":49.4,"m":1.83},{"d":49.4,"m":1.82},{"d":49.4,"m":1.8},{"d":50.5,"m":1.79},
{"d":57.5,"m":1.79},{"d":57.5,"m":1.785},{"d":58.5,"m":1.8},{"d":58.5,"m":1.79},{"d":59.3,"m":1.795},{"d":59.3,"m":1.785},
{"d":61.8,"m":1.89},{"d":61.8,"m":1.82},{"d":61.8,"m":1.81},{"d":62.6,"m":1.8},{"d":62.6,"m":1.79},{"d":63.2,"m":1.795},{"d":63.2,"m":1.785},
{"d":64.7,"m":1.83},{"d":64.7,"m":1.81},{"d":64.7,"m":1.8},{"d":65.2,"m":1.88},{"d":65.2,"m":1.86},{"d":65.2,"m":1.84},{"d":65.2,"m":1.82},
{"d":65.7,"m":2.09},{"d":65.7,"m":2.02},{"d":65.7,"m":1.975},{"d":65.7,"m":1.945},{"d":65.7,"m":1.92},{"d":65.7,"m":1.91},{"d":65.7,"m":1.9},{"d":65.7,"m":1.87},{"d":65.7,"m":1.85},
{"d":66.2,"m":1.91},{"d":66.2,"m":1.89},{"d":66.2,"m":1.88},{"d":66.2,"m":1.86},{"d":66.2,"m":1.84},{"d":66.2,"m":1.82},{"d":66.8,"m":1.83},{"d":66.8,"m":1.82},{"d":66.8,"m":1.8},{"d":66.8,"m":1.79},
{"d":71,"m":1.78},{"d":72.7,"m":1.88},{"d":72.7,"m":1.85},{"d":72.7,"m":1.82},{"d":72.7,"m":1.8},
{"d":73.5,"m":1.95},{"d":73.5,"m":1.9},{"d":73.5,"m":1.87},{"d":73.5,"m":1.84},{"d":73.5,"m":1.82},
{"d":74.9,"m":1.965},{"d":74.9,"m":1.93},{"d":74.9,"m":1.91},{"d":74.9,"m":1.89},{"d":74.9,"m":1.86},{"d":74.9,"m":1.84},{"d":74.9,"m":1.82},{"d":74.9,"m":1.8},
{"d":75.5,"m":1.92},{"d":75.5,"m":1.9},{"d":75.5,"m":1.87},{"d":75.5,"m":1.85},{"d":75.5,"m":1.83},
{"d":76.4,"m":1.89},{"d":76.4,"m":1.86},{"d":76.4,"m":1.84},{"d":76.4,"m":1.82},{"d":76.4,"m":1.8},{"d":77.4,"m":1.85},{"d":77.4,"m":1.82},{"d":77.4,"m":1.8},
{"d":78.4,"m":1.88},{"d":78.4,"m":1.87},{"d":78.4,"m":1.85},{"d":78.4,"m":1.83},{"d":78.4,"m":1.81},{"d":79.5,"m":1.82},{"d":79.5,"m":1.8},{"d":79.5,"m":1.79},{"d":80.5,"m":1.8},{"d":80.5,"m":1.79},{"d":81.3,"m":1.79},
{"d":89,"m":1.83},{"d":89,"m":1.81},{"d":89,"m":1.8},{"d":89,"m":1.79},{"d":90.3,"m":1.79},
{"d":93.2,"m":1.83},{"d":93.2,"m":1.81},{"d":93.2,"m":1.8},{"d":94.3,"m":1.89},{"d":94.3,"m":1.87},{"d":94.3,"m":1.85},{"d":94.3,"m":1.83},{"d":94.3,"m":1.81},
{"d":95.1,"m":1.93},{"d":95.1,"m":1.92},{"d":95.1,"m":1.85},{"d":95.1,"m":1.83},{"d":95.1,"m":1.81},{"d":95.8,"m":1.84},{"d":95.8,"m":1.82},{"d":95.8,"m":1.8},
{"d":98.1,"m":2.25},{"d":98.1,"m":2.12},{"d":98.1,"m":2.11},{"d":98.1,"m":2.02},{"d":98.1,"m":1.85},{"d":98.1,"m":1.82},{"d":98.1,"m":1.81},{"d":98.1,"m":1.8},{"d":98.6,"m":1.79},
{"d":101.8,"m":1.86},{"d":101.8,"m":1.83},{"d":101.8,"m":1.81},{"d":101.8,"m":1.8},{"d":102.8,"m":1.83},{"d":102.8,"m":1.81},{"d":102.8,"m":1.79},{"d":103.6,"m":1.8},{"d":103.6,"m":1.79},
{"d":104.7,"m":2.06},{"d":104.7,"m":2},{"d":104.7,"m":1.97},{"d":104.7,"m":1.95},{"d":104.7,"m":1.93},{"d":104.7,"m":1.91},{"d":104.7,"m":1.9},{"d":104.7,"m":1.88},{"d":104.7,"m":1.87},{"d":104.7,"m":1.85},{"d":104.7,"m":1.84},{"d":104.7,"m":1.83},{"d":104.7,"m":1.81},{"d":104.7,"m":1.8},{"d":104.7,"m":1.79},{"d":104.7,"m":1.78},
{"d":105.6,"m":1.98},{"d":105.6,"m":1.96},{"d":105.6,"m":1.93},{"d":105.6,"m":1.9},{"d":105.6,"m":1.88},{"d":105.6,"m":1.86},{"d":105.6,"m":1.84},{"d":105.6,"m":1.82},{"d":105.6,"m":1.8},
{"d":106.7,"m":2.27},{"d":106.7,"m":2.24},{"d":106.7,"m":2.22},{"d":106.7,"m":2.2},{"d":106.7,"m":2.18},{"d":106.7,"m":2.16},{"d":106.7,"m":2.14},{"d":106.7,"m":2.12},{"d":106.7,"m":2.1},{"d":106.7,"m":2.07},{"d":106.7,"m":2.05},{"d":106.7,"m":2.02},{"d":106.7,"m":2},{"d":106.7,"m":1.97},{"d":106.7,"m":1.95},{"d":106.7,"m":1.93},{"d":106.7,"m":1.91},{"d":106.7,"m":1.88},{"d":106.7,"m":1.86},{"d":106.7,"m":1.84},{"d":106.7,"m":1.82},{"d":106.7,"m":1.8},
{"d":107.3,"m":1.94},{"d":107.3,"m":1.88},{"d":107.3,"m":1.83},{"d":107.3,"m":1.8},
{"d":1.6,"c":414},{"d":1.6,"c":412},{"d":1.6,"c":410},{"d":1.6,"c":408},{"d":2.2,"c":411},{"d":2.2,"c":409},{"d":2.8,"c":416},{"d":2.8,"c":413},{"d":2.8,"c":411},
{"d":3.1,"c":423},{"d":3.1,"c":421},{"d":3.1,"c":418},{"d":3.1,"c":415},{"d":3.1,"c":412},{"d":3.1,"c":409},{"d":3.6,"c":418},{"d":3.6,"c":416},{"d":3.6,"c":414},{"d":3.6,"c":411},
{"d":4.1,"c":420},{"d":4.1,"c":417},{"d":4.1,"c":413},{"d":4.1,"c":410},{"d":4.6,"c":427},{"d":4.6,"c":423},{"d":4.6,"c":419},{"d":4.6,"c":416},{"d":4.6,"c":413},
{"d":5.1,"c":419},{"d":5.1,"c":417},{"d":5.1,"c":415},{"d":5.1,"c":412},{"d":5.1,"c":409},
{"d":5.7,"c":443.5},{"d":5.7,"c":442.5},{"d":5.7,"c":440},{"d":5.7,"c":438},{"d":5.7,"c":436},{"d":5.7,"c":434},{"d":5.7,"c":432},{"d":5.7,"c":430},{"d":5.7,"c":428},{"d":5.7,"c":426},{"d":5.7,"c":424},{"d":5.7,"c":422},{"d":5.7,"c":420},{"d":5.7,"c":418},{"d":5.7,"c":416},{"d":5.7,"c":414},{"d":5.7,"c":412},{"d":5.7,"c":410},
{"d":6,"c":425},{"d":6,"c":421},{"d":6,"c":417},{"d":6,"c":413},{"d":6,"c":409},{"d":6.4,"c":409},{"d":6.4,"c":407},{"d":7.6,"c":408},{"d":7.6,"c":406},{"d":8.75,"c":411},{"d":8.75,"c":410},{"d":9.5,"c":407},{"d":10.3,"c":406},{"d":10.3,"c":405},
{"d":11.8,"c":418},{"d":11.8,"c":415},{"d":11.8,"c":412},{"d":11.8,"c":409},{"d":11.8,"c":407},
{"d":12.3,"c":426},{"d":12.3,"c":423},{"d":12.3,"c":420},{"d":12.3,"c":417},{"d":12.3,"c":414},{"d":12.3,"c":411},{"d":12.3,"c":408},
{"d":12.8,"c":435},{"d":12.8,"c":433},{"d":12.8,"c":430},{"d":12.8,"c":428},{"d":12.8,"c":425},{"d":12.8,"c":422},{"d":12.8,"c":419},{"d":12.8,"c":416},{"d":12.8,"c":413},{"d":12.8,"c":410},
{"d":13.3,"c":412},{"d":13.3,"c":409},{"d":13.3,"c":406},{"d":14.5,"c":404},
{"d":19.2,"c":411},{"d":19.2,"c":409},{"d":19.2,"c":407},{"d":20.5,"c":409},{"d":20.5,"c":407},
{"d":21.5,"c":418},{"d":21.5,"c":416},{"d":21.5,"c":413},{"d":21.5,"c":410},{"d":21.5,"c":408},
{"d":22,"c":421},{"d":22,"c":419},{"d":22,"c":416},{"d":22,"c":413},{"d":22,"c":411},
{"d":22.8,"c":419},{"d":22.8,"c":416},{"d":22.8,"c":414},{"d":22.8,"c":411},{"d":22.8,"c":409},
{"d":23.6,"c":424},{"d":23.6,"c":421},{"d":23.6,"c":418},{"d":23.6,"c":415},{"d":23.6,"c":413},{"d":23.6,"c":410},
{"d":24.2,"c":427},{"d":24.2,"c":425},{"d":24.2,"c":422},{"d":24.2,"c":419},{"d":24.2,"c":416},{"d":24.2,"c":413},{"d":24.2,"c":411},
{"d":24.6,"c":430},{"d":24.6,"c":428},{"d":24.6,"c":426},{"d":24.6,"c":424},{"d":24.6,"c":421},{"d":24.6,"c":418},{"d":24.6,"c":415},{"d":24.6,"c":412},{"d":24.6,"c":409},
{"d":25.1,"c":420},{"d":25.1,"c":417},{"d":25.1,"c":414},{"d":25.1,"c":411},{"d":25.8,"c":413},{"d":25.8,"c":411},{"d":25.8,"c":409},{"d":25.8,"c":407},
{"d":26.4,"c":412},{"d":26.4,"c":410},{"d":26.4,"c":408},{"d":27.1,"c":414},{"d":27.1,"c":411},{"d":27.1,"c":408},{"d":28.2,"c":410},{"d":28.2,"c":408},{"d":28.2,"c":406},{"d":29,"c":407},
{"d":30.3,"c":411},{"d":30.3,"c":409},{"d":30.3,"c":407},{"d":31,"c":413},{"d":31,"c":410},{"d":31,"c":408},
{"d":31.6,"c":413},{"d":31.6,"c":411},{"d":31.6,"c":409},{"d":32.5,"c":416},{"d":32.5,"c":414},{"d":32.5,"c":411},{"d":32.5,"c":409},
{"d":33.3,"c":412},{"d":33.3,"c":410},{"d":33.3,"c":408},{"d":34,"c":410},{"d":34,"c":408},{"d":34.7,"c":418},{"d":34.7,"c":416},{"d":34.7,"c":413},{"d":34.7,"c":411},{"d":34.7,"c":409},
{"d":35.3,"c":424},{"d":35.3,"c":421},{"d":35.3,"c":418},{"d":35.3,"c":415},{"d":35.3,"c":412},
{"d":35.8,"c":429},{"d":35.8,"c":428},{"d":35.8,"c":425},{"d":35.8,"c":422},{"d":35.8,"c":420},{"d":35.8,"c":418},{"d":35.8,"c":416},{"d":35.8,"c":413},{"d":35.8,"c":411},
{"d":36.7,"c":429},{"d":36.7,"c":427},{"d":36.7,"c":423},{"d":36.7,"c":420},{"d":36.7,"c":418},{"d":36.7,"c":416},{"d":36.7,"c":414},{"d":36.7,"c":411},{"d":36.7,"c":409},
{"d":37.3,"c":417},{"d":37.3,"c":414},{"d":37.3,"c":411},{"d":37.3,"c":408},{"d":38.1,"c":407},{"d":38.1,"c":405},{"d":38.7,"c":406},{"d":38.7,"c":404},{"d":39.7,"c":406},{"d":39.7,"c":404},{"d":40.1,"c":406},{"d":40.5,"c":405},
{"d":41.7,"c":410},{"d":41.7,"c":407},{"d":41.7,"c":405},{"d":42.6,"c":410},{"d":42.6,"c":408},{"d":42.6,"c":406},{"d":43.1,"c":413},{"d":43.1,"c":411},{"d":43.1,"c":408},
{"d":43.8,"c":410},{"d":43.8,"c":408},{"d":44.5,"c":409},{"d":44.5,"c":407},{"d":45.1,"c":410},{"d":45.1,"c":408},
{"d":45.9,"c":429},{"d":45.9,"c":425},{"d":45.9,"c":423},{"d":45.9,"c":421},{"d":45.9,"c":419},{"d":45.9,"c":417},{"d":45.9,"c":414},{"d":45.9,"c":412},{"d":45.9,"c":410},
{"d":46.5,"c":414},{"d":46.5,"c":412},{"d":46.5,"c":410},{"d":47,"c":415},{"d":47,"c":413},{"d":47,"c":410},
{"d":47.8,"c":419},{"d":47.8,"c":417},{"d":47.8,"c":414},{"d":47.8,"c":411},{"d":48.6,"c":424},{"d":48.6,"c":422},{"d":48.6,"c":419},{"d":48.6,"c":416},{"d":48.6,"c":413},{"d":48.6,"c":410},
{"d":49.3,"c":417},{"d":49.3,"c":414},{"d":49.3,"c":411},{"d":49.3,"c":409},{"d":50.3,"c":410},{"d":50.3,"c":408},{"d":51.2,"c":409},{"d":51.2,"c":407},{"d":52.3,"c":408},{"d":52.3,"c":406},{"d":53.4,"c":407},{"d":53.4,"c":405},{"d":54.5,"c":406},{"d":55.3,"c":407},
{"d":56.2,"c":410},{"d":56.2,"c":408},{"d":57,"c":413},{"d":57,"c":411},{"d":57,"c":409},{"d":57,"c":407},{"d":57.6,"c":411},{"d":57.6,"c":409},
{"d":58.2,"c":412},{"d":58.2,"c":410},{"d":58.2,"c":407},{"d":58.8,"c":409},{"d":58.8,"c":406},{"d":59.4,"c":408},{"d":59.4,"c":406},
{"d":60.3,"c":414},{"d":60.3,"c":411},{"d":60.3,"c":409},{"d":61,"c":410},{"d":61,"c":407},{"d":61.7,"c":418},{"d":61.7,"c":412},{"d":61.7,"c":409},
{"d":62.4,"c":412},{"d":62.4,"c":410},{"d":62.4,"c":407},{"d":63,"c":411},{"d":63,"c":409},{"d":63.6,"c":413},{"d":63.6,"c":411},{"d":63.6,"c":408},
{"d":64.3,"c":415},{"d":64.3,"c":413},{"d":64.3,"c":410},{"d":64.3,"c":408},{"d":64.9,"c":417},{"d":64.9,"c":415},{"d":64.9,"c":413},{"d":64.9,"c":411},{"d":64.9,"c":409},
{"d":65.4,"c":416},{"d":65.4,"c":414},{"d":65.4,"c":412},{"d":65.4,"c":410},{"d":65.7,"c":439.5},{"d":65.7,"c":434.5},{"d":65.7,"c":428},{"d":65.7,"c":423.5},
{"d":66.1,"c":416},{"d":66.1,"c":414},{"d":66.1,"c":411},{"d":66.1,"c":409},{"d":66.6,"c":413},{"d":66.6,"c":410},{"d":66.6,"c":408},{"d":67.2,"c":407},{"d":67.2,"c":405},{"d":67.9,"c":406},
{"d":70.6,"c":404},{"d":71.3,"c":406},{"d":71.3,"c":404},{"d":71.9,"c":408},{"d":71.9,"c":406},{"d":72.3,"c":408},
{"d":72.8,"c":412},{"d":72.8,"c":410},{"d":72.8,"c":407},{"d":73.6,"c":416},{"d":73.6,"c":413},{"d":73.6,"c":411},{"d":73.6,"c":408},
{"d":74.3,"c":419},{"d":74.3,"c":416},{"d":74.3,"c":413},{"d":74.3,"c":410},{"d":74.9,"c":422},{"d":74.9,"c":420},{"d":74.9,"c":417},{"d":74.9,"c":414},{"d":74.9,"c":411},
{"d":75.5,"c":420},{"d":75.5,"c":417},{"d":75.5,"c":414},{"d":75.5,"c":411},{"d":76.1,"c":417},{"d":76.1,"c":414},{"d":76.1,"c":411},{"d":76.1,"c":408},
{"d":76.7,"c":415},{"d":76.7,"c":412},{"d":76.7,"c":409},{"d":77.4,"c":414},{"d":77.4,"c":411},{"d":77.4,"c":408},
{"d":78,"c":416},{"d":78,"c":413},{"d":78,"c":410},{"d":78.6,"c":414},{"d":78.6,"c":411},{"d":78.6,"c":408},
{"d":79.2,"c":419},{"d":79.2,"c":417},{"d":79.2,"c":414},{"d":79.2,"c":411},{"d":79.7,"c":421},{"d":79.7,"c":419},{"d":79.7,"c":416},{"d":79.7,"c":413},{"d":79.7,"c":410},
{"d":80.3,"c":412},{"d":80.3,"c":409},{"d":81,"c":414},{"d":81,"c":411},{"d":81,"c":408},{"d":81.5,"c":422},{"d":81.5,"c":419},{"d":81.5,"c":416},{"d":81.5,"c":413},{"d":81.5,"c":410},
{"d":82,"c":410},{"d":82,"c":408},{"d":82.6,"c":407},{"d":82.9,"c":411},{"d":82.9,"c":409},{"d":85.7,"c":405},{"d":87.6,"c":406},
{"d":88.4,"c":410},{"d":88.4,"c":408},{"d":89,"c":422},{"d":89,"c":420},{"d":89,"c":418},{"d":89,"c":416},{"d":89,"c":414},{"d":89,"c":412},{"d":89,"c":410},
{"d":89.5,"c":417},{"d":89.5,"c":415},{"d":89.5,"c":412},{"d":90.6,"c":412},{"d":90.6,"c":410},{"d":91.2,"c":414},{"d":91.2,"c":411},{"d":91.2,"c":409},
{"d":91.8,"c":419},{"d":91.8,"c":416},{"d":91.8,"c":413},{"d":91.8,"c":410},
{"d":92.3,"c":426.5},{"d":92.3,"c":425},{"d":92.3,"c":423},{"d":92.3,"c":421},{"d":92.3,"c":419},{"d":92.3,"c":417},{"d":92.3,"c":415},{"d":92.3,"c":413},{"d":92.3,"c":411},
{"d":92.8,"c":422},{"d":92.8,"c":420},{"d":92.8,"c":418},{"d":92.8,"c":415},{"d":92.8,"c":412},
{"d":93.5,"c":413},{"d":93.5,"c":411},{"d":93.5,"c":409},{"d":94.1,"c":414},{"d":94.1,"c":412},{"d":94.1,"c":409},{"d":94.7,"c":416},{"d":94.7,"c":413},{"d":94.7,"c":410},{"d":95.2,"c":412},{"d":95.2,"c":410},
{"d":95.7,"c":420},{"d":95.7,"c":418},{"d":95.7,"c":415},{"d":95.7,"c":412},{"d":95.7,"c":409},{"d":96.3,"c":413},{"d":96.3,"c":411},{"d":96.3,"c":408},
{"d":96.9,"c":415},{"d":96.9,"c":412},{"d":96.9,"c":409},{"d":97.6,"c":413},{"d":97.6,"c":411},{"d":97.6,"c":408},{"d":98.4,"c":415},{"d":98.4,"c":413},{"d":98.4,"c":410},
{"d":99,"c":410},{"d":99,"c":408},{"d":99.6,"c":412},{"d":99.6,"c":410},{"d":99.6,"c":407},{"d":100.3,"c":409},{"d":100.3,"c":407},{"d":100.8,"c":411},{"d":100.8,"c":408},
{"d":101.3,"c":429.5},{"d":101.3,"c":428},{"d":101.3,"c":426},{"d":101.3,"c":424},{"d":101.3,"c":422},{"d":101.3,"c":420},{"d":101.3,"c":418},{"d":101.3,"c":416},{"d":101.3,"c":414},{"d":101.3,"c":412},{"d":101.3,"c":410},
{"d":101.9,"c":413},{"d":101.9,"c":411},{"d":101.9,"c":408},{"d":102.5,"c":410},{"d":102.5,"c":408},{"d":103.1,"c":412},{"d":103.1,"c":409},
{"d":103.8,"c":414},{"d":103.8,"c":411},{"d":103.8,"c":408},{"d":104.3,"c":418},{"d":104.3,"c":415},{"d":104.3,"c":412},{"d":104.3,"c":409},
{"d":104.8,"c":436.5},{"d":104.8,"c":435},{"d":104.8,"c":433},{"d":104.8,"c":431},{"d":104.8,"c":429},{"d":104.8,"c":428},{"d":104.8,"c":426},{"d":104.8,"c":424},{"d":104.8,"c":422},{"d":104.8,"c":420},{"d":104.8,"c":418},{"d":104.8,"c":416},{"d":104.8,"c":414},{"d":104.8,"c":412},{"d":104.8,"c":410},
{"d":105.2,"c":430},{"d":105.2,"c":427},{"d":105.2,"c":424},{"d":105.2,"c":421},{"d":105.2,"c":418},{"d":105.2,"c":415},{"d":105.2,"c":412},
{"d":105.6,"c":425},{"d":105.6,"c":422},{"d":105.6,"c":419},{"d":105.6,"c":416},{"d":105.6,"c":413},{"d":105.6,"c":410},
{"d":106,"c":424},{"d":106,"c":421},{"d":106,"c":418},{"d":106,"c":415},{"d":106,"c":412},
{"d":106.5,"c":435},{"d":106.5,"c":434},{"d":106.5,"c":432},{"d":106.5,"c":430},{"d":106.5,"c":428},{"d":106.5,"c":426},{"d":106.5,"c":424},{"d":106.5,"c":422},{"d":106.5,"c":420},{"d":106.5,"c":418},{"d":106.5,"c":416},{"d":106.5,"c":414},{"d":106.5,"c":412},{"d":106.5,"c":410},
{"d":106.9,"c":433},{"d":106.9,"c":431},{"d":106.9,"c":428},{"d":106.9,"c":425},{"d":106.9,"c":422},{"d":106.9,"c":419},{"d":106.9,"c":416},{"d":106.9,"c":413},{"d":106.9,"c":410},
{"d":107.4,"c":418},{"d":107.4,"c":414},{"d":107.4,"c":411},{"d":107.4,"c":408},{"d":107.9,"c":410},{"d":107.9,"c":407},{"d":108.4,"c":409},{"d":108.4,"c":406}
]
},
"vconcat": [
{
  "width": 792, "height": 228,
  "layer": [
    {"data": {"name": "obs"},
     "mark": {"type": "point", "filled": false, "size": 20, "strokeWidth": 1.1, "color": "#e8101a", "opacity": 1},
     "encoding": {
       "x": {"field": "d", "type": "quantitative", "scale": {"domain": [0, 110], "nice": false, "zero": false},
             "axis": {"values": [0,5,10,15,20,25,30,35,40,45,50,55,60,65,70,75,80,85,90,95,100,105,110], "tickCount": 200, "labels": false, "title": null,
                      "tickSize": {"condition": {"test": "datum.value % 10 === 0", "value": 7}, "value": 4}}},
       "y": {"field": "m", "type": "quantitative", "scale": {"domain": [1.65, 2.35], "nice": false, "zero": false},
             "axis": {"values": [1.65,1.7,1.75,1.8,1.85,1.9,1.95,2.0,2.05,2.1,2.15,2.2,2.25,2.3,2.35], "tickCount": 200, "title": "Methane (ppm)", "titlePadding": 8, "labelPadding": 3, "format": ".1f",
                      "labelExpr": "abs(datum.value*10 - round(datum.value*10)) < 0.01 ? datum.label : ''",
                      "tickSize": {"condition": {"test": "abs(datum.value*10 - round(datum.value*10)) < 0.01", "value": 7}, "value": 4}}}
     }},
    {"data": {"values": [{"t": "Ambaro Bay", "d": 9.0, "m": 1.835}, {"t": "Ambaro Bay", "d": 16.9, "m": 1.811}, {"t": "Nosy Iranja Island", "d": 28.6, "m": 1.82}]},
     "mark": {"type": "text", "angle": 270, "align": "left", "baseline": "middle", "fontSize": 13, "color": "#111"},
     "encoding": {"x": {"field": "d", "type": "quantitative"}, "y": {"field": "m", "type": "quantitative"}, "text": {"field": "t"}}},
    {"data": {"values": [{"t": "Mozabmique Channel", "d": 85.6, "m": 1.752}]},
     "mark": {"type": "text", "angle": 270, "align": "left", "baseline": "middle", "fontSize": 14, "color": "#111"},
     "encoding": {"x": {"field": "d", "type": "quantitative"}, "y": {"field": "m", "type": "quantitative"}, "text": {"field": "t"}}},
    {"data": {"values": [{"t": "Soalara", "d": 69.6, "m": 1.866}]},
     "mark": {"type": "text", "angle": 270, "align": "left", "baseline": "middle", "fontSize": 15, "color": "#111"},
     "encoding": {"x": {"field": "d", "type": "quantitative"}, "y": {"field": "m", "type": "quantitative"}, "text": {"field": "t"}}},
    {"data": {"values": [{"t": "(shallow waters - reef)", "d": 30.7, "m": 1.814}]},
     "mark": {"type": "text", "angle": 270, "align": "left", "baseline": "middle", "fontSize": 11, "color": "#111"},
     "encoding": {"x": {"field": "d", "type": "quantitative"}, "y": {"field": "m", "type": "quantitative"}, "text": {"field": "t"}}},
    {"data": {"values": [{"t": "(River Betsiboka Delta)", "d": 47.8, "m": 2.229}]},
     "mark": {"type": "text", "align": "center", "baseline": "middle", "fontSize": 11, "color": "#111"},
     "encoding": {"x": {"field": "d", "type": "quantitative"}, "y": {"field": "m", "type": "quantitative"}, "text": {"field": "t"}}},
    {"data": {"values": [{"t": "Mahajanga", "d": 47.6, "m": 2.183}, {"t": "Maputo", "d": 93.8, "m": 2.362}]},
     "mark": {"type": "text", "align": "center", "baseline": "middle", "fontSize": 14, "color": "#111"},
     "encoding": {"x": {"field": "d", "type": "quantitative"}, "y": {"field": "m", "type": "quantitative"}, "text": {"field": "t"}}},
    {"data": {"values": [{"t": "Tollara", "d": 71.8, "m": 2.195}]},
     "mark": {"type": "text", "align": "center", "baseline": "middle", "fontSize": 15, "color": "#111"},
     "encoding": {"x": {"field": "d", "type": "quantitative"}, "y": {"field": "m", "type": "quantitative"}, "text": {"field": "t"}}},
    {"data": {"values": [{"t": "(shallow waters)", "d": 63.5, "m": 1.7}, {"t": "(shallow waters)", "d": 75.7, "m": 1.697}]},
     "mark": {"type": "text", "align": "center", "baseline": "middle", "fontSize": 9, "color": "#222"},
     "encoding": {"x": {"field": "d", "type": "quantitative"}, "y": {"field": "m", "type": "quantitative"}, "text": {"field": "t"}}},
    {"data": {"values": [{"t": "Richards Bay", "d": 102.1, "m": 2.128}, {"t": "Durban", "d": 106.9, "m": 2.377}]},
     "mark": {"type": "text", "angle": 315, "align": "center", "baseline": "middle", "fontSize": 14, "color": "#111"},
     "encoding": {"x": {"field": "d", "type": "quantitative"}, "y": {"field": "m", "type": "quantitative"}, "text": {"field": "t"}}},
    {"data": {"values": [{"d": 44.9, "d2": 51.0, "m": 2.149}, {"d": 60.0, "d2": 83.3, "m": 2.155}, {"d": 87.1, "d2": 98.9, "m": 2.325}]},
     "mark": {"type": "rule", "color": "#666", "strokeWidth": 1},
     "encoding": {"x": {"field": "d", "type": "quantitative"}, "x2": {"field": "d2"}, "y": {"field": "m", "type": "quantitative"}}},
    {"data": {"values": [{"d": 44.9, "m": 2.149}, {"d": 51.0, "m": 2.149}, {"d": 60.0, "m": 2.155}, {"d": 83.3, "m": 2.155}, {"d": 87.1, "m": 2.325}, {"d": 98.9, "m": 2.325}]},
     "mark": {"type": "tick", "orient": "vertical", "size": 6, "thickness": 1, "color": "#666"},
     "encoding": {"x": {"field": "d", "type": "quantitative"}, "y": {"field": "m", "type": "quantitative"}}}
  ]
},
{
  "width": 792, "height": 228,
  "layer": [
    {"data": {"name": "obs"},
     "mark": {"type": "point", "filled": false, "size": 20, "strokeWidth": 1.1, "color": "#2222d6", "opacity": 1},
     "encoding": {
       "x": {"field": "d", "type": "quantitative", "scale": {"domain": [0, 110], "nice": false, "zero": false},
             "axis": {"values": [0,5,10,15,20,25,30,35,40,45,50,55,60,65,70,75,80,85,90,95,100,105,110], "tickCount": 200, "title": "Date (day/month)", "titlePadding": 12,
                      "labelAngle": -45, "labelFontSize": 13, "labelPadding": 2,
                      "labelExpr": "datum.value % 10 === 0 ? ['22/6','2/7','12/7','22/7','1/8','11/8','21/8','31/8','10/9','20/9','30/9','10/10'][datum.value/10] : ''",
                      "tickSize": {"condition": {"test": "datum.value % 10 === 0", "value": 7}, "value": 4}}},
       "y": {"field": "c", "type": "quantitative", "scale": {"domain": [390, 450], "nice": false, "zero": false},
             "axis": {"values": [390,395,400,405,410,415,420,425,430,435,440,445,450], "tickCount": 200, "format": "d", "title": "CO₂ (ppm)", "titlePadding": 8, "labelPadding": 3,
                      "labelExpr": "datum.value % 10 === 0 ? datum.label : ''",
                      "tickSize": {"condition": {"test": "datum.value % 10 === 0", "value": 7}, "value": 4}}}
     }},
    {"data": {"values": [{"t": "Madagascar", "d": 0.3, "c": 451.3}]},
     "mark": {"type": "text", "align": "left", "baseline": "middle", "fontSize": 13, "color": "#111"},
     "encoding": {"x": {"field": "d", "type": "quantitative"}, "y": {"field": "c", "type": "quantitative"}, "text": {"field": "t"}}},
    {"data": {"values": [{"t": "Africa Continent", "d": 80.1, "c": 449.7}, {"t": "Nosy Be Island", "d": 26.8, "c": 443.7}]},
     "mark": {"type": "text", "align": "center", "baseline": "middle", "fontSize": 13, "color": "#111"},
     "encoding": {"x": {"field": "d", "type": "quantitative"}, "y": {"field": "c", "type": "quantitative"}, "text": {"field": "t"}}},
    {"data": {"values": [{"t": "(Marsh Discharche)", "d": 27.8, "c": 448.2}]},
     "mark": {"type": "text", "align": "center", "baseline": "middle", "fontSize": 10, "color": "#111"},
     "encoding": {"x": {"field": "d", "type": "quantitative"}, "y": {"field": "c", "type": "quantitative"}, "text": {"field": "t"}}},
    {"data": {"values": [{"t": "Mozabmique Channel", "d": 54.2, "c": 408.2}, {"t": "Mozabmique Channel", "d": 85.4, "c": 408.7}]},
     "mark": {"type": "text", "angle": 270, "align": "left", "baseline": "middle", "fontSize": 14, "color": "#111"},
     "encoding": {"x": {"field": "d", "type": "quantitative"}, "y": {"field": "c", "type": "quantitative"}, "text": {"field": "t"}}},
    {"data": {"values": [{"t": "Soalara", "d": 69.3, "c": 412.9}]},
     "mark": {"type": "text", "angle": 270, "align": "left", "baseline": "middle", "fontSize": 15, "color": "#111"},
     "encoding": {"x": {"field": "d", "type": "quantitative"}, "y": {"field": "c", "type": "quantitative"}, "text": {"field": "t"}}},
    {"data": {"values": [{"t": "(shallow waters)", "d": 56.0, "c": 415.3}, {"t": "(deep waters - river delta)", "d": 71.3, "c": 407.4}]},
     "mark": {"type": "text", "angle": 270, "align": "left", "baseline": "middle", "fontSize": 11, "color": "#111"},
     "encoding": {"x": {"field": "d", "type": "quantitative"}, "y": {"field": "c", "type": "quantitative"}, "text": {"field": "t"}}},
    {"data": {"values": [{"d": 10.7, "d2": 22.8, "c": 451.3}, {"d": 87.5, "d2": 94.6, "c": 449.7}]},
     "mark": {"type": "rule", "color": "#444", "strokeWidth": 1, "strokeDash": [2, 2]},
     "encoding": {"x": {"field": "d", "type": "quantitative"}, "x2": {"field": "d2"}, "y": {"field": "c", "type": "quantitative"}}},
    {"data": {"values": [{"d": 20.8, "c": 443.7, "d2": 7.9, "c2": 442.1}, {"d": 30.1, "c": 440.5, "d2": 35.7, "c2": 431.1}]},
     "mark": {"type": "rule", "color": "#333", "strokeWidth": 1},
     "encoding": {"x": {"field": "d", "type": "quantitative"}, "x2": {"field": "d2"}, "y": {"field": "c", "type": "quantitative"}, "y2": {"field": "c2"}}},
    {"data": {"values": [{"d": 23.6, "c": 442.4, "d2": 14.2, "c2": 435.8}, {"d": 25.3, "c": 441.8, "d2": 24.7, "c2": 432.6}]},
     "mark": {"type": "rule", "color": "#333", "strokeWidth": 1, "strokeDash": [3, 2]},
     "encoding": {"x": {"field": "d", "type": "quantitative"}, "x2": {"field": "d2"}, "y": {"field": "c", "type": "quantitative"}, "y2": {"field": "c2"}}},
    {"data": {"values": [{"d": 23.4, "c": 451.3}, {"d": 95.1, "c": 449.7}]},
     "mark": {"type": "point", "shape": "triangle", "angle": 90, "filled": true, "size": 28, "color": "#111", "opacity": 1},
     "encoding": {"x": {"field": "d", "type": "quantitative"}, "y": {"field": "c", "type": "quantitative"}}},
    {"data": {"values": [{"d": 7.9, "c": 442.1}]},
     "mark": {"type": "point", "shape": "triangle", "angle": 266, "filled": true, "size": 28, "color": "#111", "opacity": 1},
     "encoding": {"x": {"field": "d", "type": "quantitative"}, "y": {"field": "c", "type": "quantitative"}}},
    {"data": {"values": [{"d": 14.2, "c": 435.8}]},
     "mark": {"type": "point", "shape": "triangle", "angle": 250, "filled": true, "size": 28, "color": "#111", "opacity": 1},
     "encoding": {"x": {"field": "d", "type": "quantitative"}, "y": {"field": "c", "type": "quantitative"}}},
    {"data": {"values": [{"d": 24.7, "c": 432.6}]},
     "mark": {"type": "point", "shape": "triangle", "angle": 186, "filled": true, "size": 28, "color": "#111", "opacity": 1},
     "encoding": {"x": {"field": "d", "type": "quantitative"}, "y": {"field": "c", "type": "quantitative"}}},
    {"data": {"values": [{"d": 35.7, "c": 431.1}]},
     "mark": {"type": "point", "shape": "triangle", "angle": 132, "filled": true, "size": 28, "color": "#111", "opacity": 1},
     "encoding": {"x": {"field": "d", "type": "quantitative"}, "y": {"field": "c", "type": "quantitative"}}}
  ]
}
]
}
